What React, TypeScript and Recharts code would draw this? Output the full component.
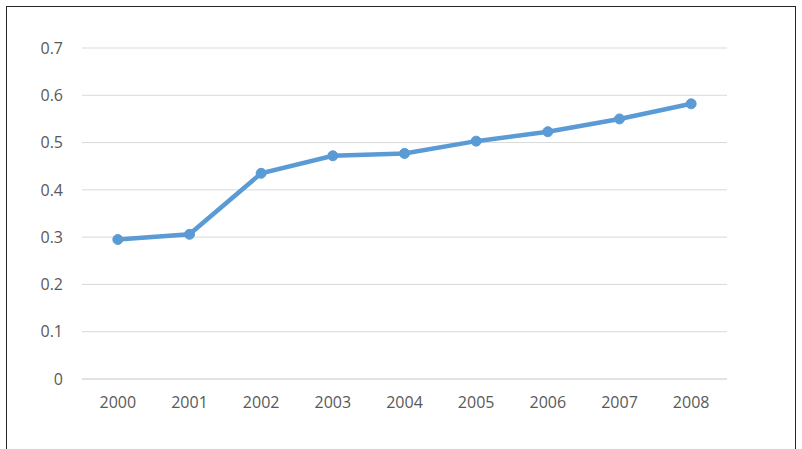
import React from 'react';
import { LineChart, Line, XAxis, YAxis, CartesianGrid } from 'recharts';

const years = ['2000', '2001', '2002', '2003', '2004', '2005', '2006', '2007', '2008'];
const values = [0.295, 0.306, 0.435, 0.472, 0.477, 0.503, 0.523, 0.55, 0.582];
const yTicks = [0, 0.1, 0.2, 0.3, 0.4, 0.5, 0.6, 0.7];

const data = years.map((year, i) => ({ year, value: values[i] }));

const tickStyle = { fill: '#595959', fontSize: 16, fontFamily: '"Open Sans", sans-serif' };

export default function App() {
  return (
    <div style={{ position: 'absolute', left: 0, top: 0, width: 802, height: 449, background: '#fff', overflow: 'hidden' }}>
      <div
        style={{
          position: 'absolute',
          left: 6,
          top: 6,
          width: 790,
          height: 480,
          border: '1px solid #262626',
          boxSizing: 'border-box',
        }}
      />
      <div style={{ position: 'absolute', left: 0, top: 0 }}>
        <LineChart width={802} height={449} data={data} margin={{ top: 48, right: 75, bottom: 40, left: 12 }}>
          <CartesianGrid horizontal vertical={false} stroke="#d9d9d9" strokeWidth={1} />
          <XAxis
            dataKey="year"
            scale="band"
            axisLine={{ stroke: '#d9d9d9' }}
            tickLine={false}
            tickSize={6}
            tickMargin={12}
            height={30}
            tick={tickStyle}
            interval={0}
          />
          <YAxis
            domain={[0, 0.7]}
            ticks={yTicks}
            axisLine={false}
            tickLine={false}
            tickSize={6}
            tickMargin={13}
            width={70}
            tick={tickStyle}
            interval={0}
          />
          <Line
            type="linear"
            dataKey="value"
            stroke="#5b9bd5"
            strokeWidth={4.5}
            dot={{ r: 5, fill: '#5b9bd5', stroke: '#5b9bd5', strokeWidth: 1 }}
            activeDot={false}
            isAnimationActive={false}
          />
        </LineChart>
      </div>
    </div>
  );
}
